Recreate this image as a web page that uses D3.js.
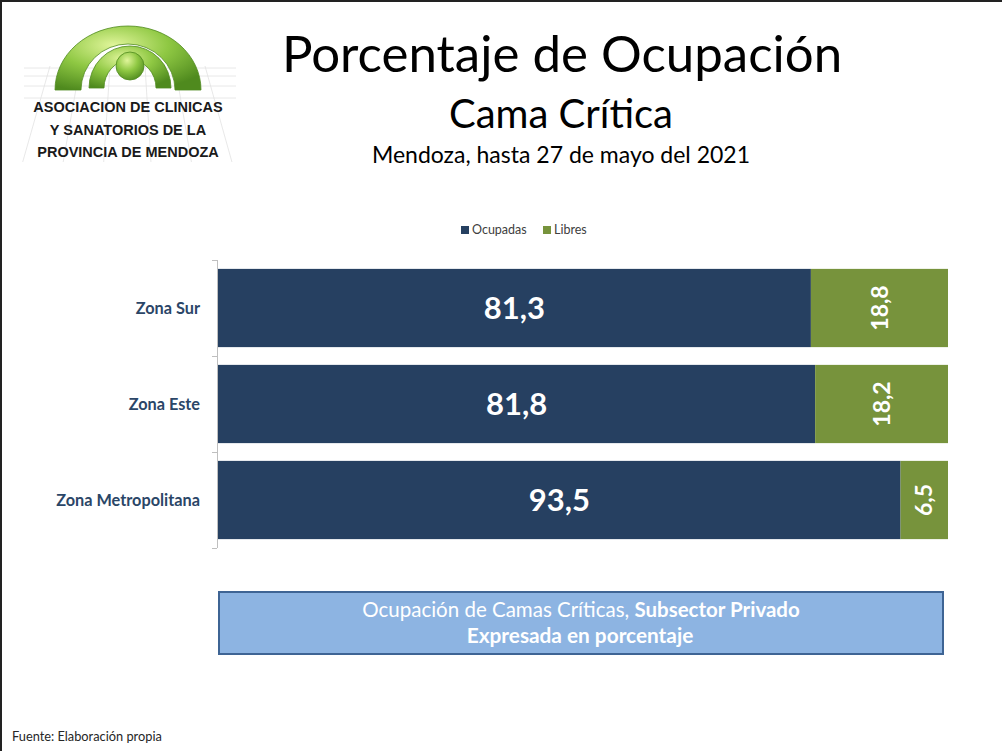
<!DOCTYPE html>
<html>
<head>
<meta charset="utf-8">
<script src="https://cdn.jsdelivr.net/npm/d3@7"></script>
<style>
  body { margin: 0; background: #fff; }
  svg { display: block; }
</style>
</head>
<body>
<div id="canvas"></div>
<script>
"use strict"

/* Data */
let zonas = ["Zona Sur", "Zona Este", "Zona Metropolitana"];
let ocupadas = [81.3, 81.8, 93.5];
let libres = [18.8, 18.2, 6.5];
let seriesNames = ["Ocupadas", "Libres"];
let logoLines = ["ASOCIACION DE CLINICAS", "Y SANATORIOS DE LA", "PROVINCIA DE MENDOZA"];

/* Drawing config */
let svgWidth = 1002;
let svgHeight = 751;
let navy = "#264061";
let green = "#77933c";
let calibri = "Lato, 'Open Sans', sans-serif";

let svg = d3.select("#canvas")
  .append("svg")
  .attr("width", svgWidth)
  .attr("height", svgHeight);

// slide border (left and top)
svg.append("rect").attr("x", 0).attr("y", 0).attr("width", svgWidth).attr("height", 2).attr("fill", "#222");
svg.append("rect").attr("x", 0).attr("y", 0).attr("width", 2).attr("height", svgHeight).attr("fill", "#222");

/* Logo */
let logo = svg.append("g");
let defs = svg.append("defs");
let grad = defs.append("radialGradient").attr("id", "archGrad")
  .attr("cx", "40%").attr("cy", "30%").attr("r", "75%");
grad.append("stop").attr("offset", "0%").attr("stop-color", "#e0f59a");
grad.append("stop").attr("offset", "50%").attr("stop-color", "#8fc843");
grad.append("stop").attr("offset", "100%").attr("stop-color", "#4f8a1e");

// faint grid behind the arch
let gridG = logo.append("g").attr("stroke", "#e2e2e2").attr("stroke-width", 0.8).attr("fill", "none");
[68, 76, 86, 98].forEach(function (y) {
  gridG.append("line").attr("x1", 24).attr("x2", 236).attr("y1", y).attr("y2", y);
});
[50, 80, 110, 145, 175, 205].forEach(function (x) {
  gridG.append("line").attr("x1", x).attr("y1", 66).attr("x2", 128 + (x - 128) * 1.35).attr("y2", 162);
});

// half elliptical ring (an arch) centred at cx, cy
function archPath(cx, cy, orx, ory, irx, iry) {
  return "M" + (cx - orx) + "," + cy +
    " A" + orx + "," + ory + " 0 0 1 " + (cx + orx) + "," + cy +
    " L" + (cx + irx) + "," + cy +
    " A" + irx + "," + iry + " 0 0 0 " + (cx - irx) + "," + cy + " Z";
}
logo.append("path")
  .attr("d", archPath(128, 90, 73, 64, 47, 46))
  .attr("fill", "url(#archGrad)").attr("stroke", "#4f8a1e").attr("stroke-width", 0.8);
logo.append("path")
  .attr("d", archPath(130, 88, 41, 42, 26, 28))
  .attr("fill", "url(#archGrad)").attr("stroke", "#4f8a1e").attr("stroke-width", 0.8);
logo.append("circle").attr("cx", 130).attr("cy", 66).attr("r", 14)
  .attr("fill", "url(#archGrad)").attr("stroke", "#4f8a1e").attr("stroke-width", 0.8);

logo.selectAll("text.logo")
  .data(logoLines)
  .enter()
  .append("text")
  .attr("x", 128)
  .attr("y", function (d, i) { return 112 + i * 22.5; })
  .attr("text-anchor", "middle")
  .style("font-family", "'Liberation Sans', Arial, sans-serif")
  .style("font-weight", "bold")
  .style("font-size", "14.5px")
  .attr("fill", "#1a1a1a")
  .text(function (d) { return d; });

/* Titles */
svg.append("text")
  .attr("x", 562).attr("y", 72)
  .attr("text-anchor", "middle")
  .style("font-family", calibri)
  .style("font-size", "51px")
  .attr("fill", "#000")
  .text("Porcentaje de Ocupación");

svg.append("text")
  .attr("x", 561).attr("y", 128)
  .attr("text-anchor", "middle")
  .style("font-family", calibri)
  .style("font-size", "40px")
  .attr("fill", "#000")
  .text("Cama Crítica");

svg.append("text")
  .attr("x", 561).attr("y", 163)
  .attr("text-anchor", "middle")
  .style("font-family", calibri)
  .style("font-size", "23px")
  .attr("fill", "#000")
  .text("Mendoza, hasta 27 de mayo del 2021");

/* Scales */
let xScale = d3.scaleLinear().domain([0, 100]).range([218, 948]);
let yScale = d3.scaleBand()
  .domain(zonas)
  .range([260, 548])
  .paddingInner(0.185)
  .paddingOuter(0.0925);

// 100% stacked: normalise each row to its own total
let rows = zonas.map(function (z, i) {
  let total = ocupadas[i] + libres[i];
  return {zona: z, Ocupadas: ocupadas[i] / total * 100, Libres: libres[i] / total * 100,
          labels: {Ocupadas: ocupadas[i], Libres: libres[i]}};
});
let stack = d3.stack().keys(seriesNames)(rows);
let colour = d3.scaleOrdinal().domain(seriesNames).range([navy, green]);
let fmt = function (v) { return d3.format(".1f")(v).replace(".", ","); };

let layers = svg.selectAll("g.layer")
  .data(stack)
  .enter()
  .append("g")
  .attr("class", "layer")
  .attr("fill", function (d) { return colour(d.key); });

layers.selectAll("rect")
  .data(function (d) { return d; })
  .enter()
  .append("rect")
  .attr("x", function (d) { return xScale(d[0]); })
  .attr("y", function (d) { return yScale(d.data.zona); })
  .attr("width", function (d) { return xScale(d[1]) - xScale(d[0]); })
  .attr("height", yScale.bandwidth());

// value labels: navy horizontal, green rotated
layers.each(function (layer) {
  let key = layer.key;
  d3.select(this).selectAll("text")
    .data(layer)
    .enter()
    .append("text")
    .attr("transform", function (d) {
      let cx = (xScale(d[0]) + xScale(d[1])) / 2;
      let cy = yScale(d.data.zona) + yScale.bandwidth() / 2;
      return key === "Ocupadas" ? "translate(" + cx + "," + cy + ")"
                                : "translate(" + cx + "," + cy + ") rotate(-90)";
    })
    .attr("text-anchor", "middle")
    .attr("dy", "0.35em")
    .style("font-family", calibri)
    .style("font-weight", "bold")
    .style("font-size", key === "Ocupadas" ? "31px" : "23px")
    .attr("fill", "#fff")
    .text(function (d) { return fmt(d.data.labels[key]); });
});

/* Category axis with ticks on band boundaries */
let axisX = 217;
let axis = svg.append("g").attr("stroke", "#bfbfbf").attr("stroke-width", 1);
axis.append("line")
  .attr("x1", axisX + 0.5).attr("x2", axisX + 0.5)
  .attr("y1", yScale.range()[0]).attr("y2", yScale.range()[1]);
d3.range(zonas.length + 1).forEach(function (i) {
  let y = Math.round(yScale.range()[0] + i * yScale.step()) + 0.5;
  axis.append("line").attr("x1", axisX - 5).attr("x2", axisX).attr("y1", y).attr("y2", y);
});

svg.selectAll("text.cat")
  .data(zonas)
  .enter()
  .append("text")
  .attr("class", "cat")
  .attr("x", 200)
  .attr("y", function (d) { return yScale(d) + yScale.bandwidth() / 2; })
  .attr("dy", "0.35em")
  .attr("text-anchor", "end")
  .style("font-family", calibri)
  .style("font-weight", "bold")
  .style("font-size", "16.3px")
  .attr("fill", "#2b4667")
  .text(function (d) { return d; });

/* Legend */
let legend = svg.append("g").attr("transform", "translate(461,230)");
let legendX = [0, 82];
seriesNames.forEach(function (name, i) {
  legend.append("rect")
    .attr("x", legendX[i]).attr("y", -4)
    .attr("width", 8).attr("height", 8)
    .attr("fill", colour(name));
  legend.append("text")
    .attr("x", legendX[i] + 11).attr("y", 0)
    .attr("dy", "0.35em")
    .style("font-family", calibri)
    .style("font-size", "12.5px")
    .attr("fill", "#404040")
    .text(name);
});

/* Note box */
svg.append("rect")
  .attr("x", 219).attr("y", 592)
  .attr("width", 724).attr("height", 62)
  .attr("fill", "#8db4e2")
  .attr("stroke", "#3e6494")
  .attr("stroke-width", 2);

let note1 = svg.append("text")
  .attr("x", 581).attr("y", 617)
  .attr("text-anchor", "middle")
  .style("font-family", calibri)
  .style("font-size", "20.5px")
  .attr("fill", "#fff");
note1.append("tspan").text("Ocupación de Camas Críticas, ");
note1.append("tspan").style("font-weight", "bold").text("Subsector Privado");

svg.append("text")
  .attr("x", 580).attr("y", 643)
  .attr("text-anchor", "middle")
  .style("font-family", calibri)
  .style("font-weight", "bold")
  .style("font-size", "20.8px")
  .attr("fill", "#fff")
  .text("Expresada en porcentaje");

/* Footer */
svg.append("text")
  .attr("x", 12).attr("y", 741)
  .style("font-family", calibri)
  .style("font-size", "12.8px")
  .attr("fill", "#262626")
  .text("Fuente: Elaboración propia");
</script>
</body>
</html>
